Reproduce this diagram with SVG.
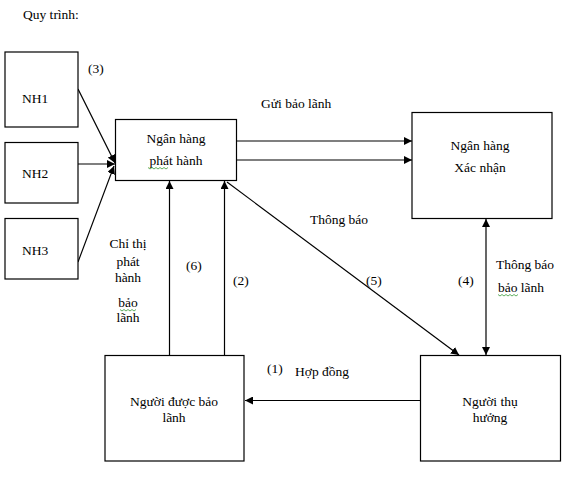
<svg xmlns="http://www.w3.org/2000/svg" width="574" height="479" viewBox="0 0 574 479" font-family="'Liberation Serif', 'DejaVu Serif', serif">
<style>
.box{fill:#fff;stroke:#000;stroke-width:1.2}
.ln{fill:none;stroke:#000;stroke-width:1.2}
text{font-family:'Liberation Serif','DejaVu Serif',serif;font-size:13.5px;fill:#000}
.c{text-anchor:middle}
.sq{fill:none;stroke:#3a9a3a;stroke-width:0.8}
</style>
<defs>
<marker id="ah" viewBox="0 0 10 10" refX="10" refY="5" markerWidth="8" markerHeight="8" markerUnits="userSpaceOnUse" orient="auto-start-reverse">
<path d="M0,0 L10,5 L0,10 Z" fill="#000"/>
</marker>
</defs>
<rect width="574" height="479" fill="#fff"/>
<text x="23" y="19">Quy trình:</text>
<g id="connectors">
<line class="ln" x1="78" y1="89" x2="115" y2="163" marker-end="url(#ah)"/>
<line class="ln" x1="78" y1="164" x2="115" y2="164" marker-end="url(#ah)"/>
<line class="ln" x1="78" y1="262" x2="114" y2="166" marker-end="url(#ah)"/>
<line class="ln" x1="237" y1="141" x2="412" y2="141" marker-end="url(#ah)"/>
<line class="ln" x1="237" y1="160" x2="412" y2="160" marker-end="url(#ah)"/>
<line class="ln" x1="169.5" y1="355" x2="169.5" y2="181" marker-end="url(#ah)"/>
<line class="ln" x1="224.5" y1="355" x2="224.5" y2="181" marker-end="url(#ah)"/>
<line class="ln" x1="227" y1="182" x2="459" y2="355" marker-end="url(#ah)"/>
<line class="ln" x1="486" y1="219" x2="486" y2="355" marker-start="url(#ah)" marker-end="url(#ah)"/>
<line class="ln" x1="420" y1="400.5" x2="245" y2="400.5" marker-end="url(#ah)"/>
</g>
<g id="nh1"><rect class="box" x="5" y="52" width="73" height="75"/><text x="22" y="103">NH1</text></g>
<g id="nh2"><rect class="box" x="5" y="142.5" width="73" height="60.5"/><text x="22" y="178">NH2</text></g>
<g id="nh3"><rect class="box" x="5" y="218.5" width="73" height="60.5"/><text x="22" y="255">NH3</text></g>
<g id="issuing-bank"><rect class="box" x="115.5" y="119.5" width="121" height="61"/>
<text class="c" x="176" y="143">Ngân hàng</text><text class="c" x="176" y="165">phát hành</text>
<path class="sq" d="M148,167.5 l2,1.5 l2,-1.5 l2,1.5 l2,-1.5 l2,1.5 l2,-1.5 l2,1.5 l2,-1.5 l2,1.5 l2,-1.5"/></g>
<g id="confirming-bank"><rect class="box" x="412" y="112.5" width="140" height="106"/>
<text class="c" x="480" y="150">Ngân hàng</text><text class="c" x="480" y="172">Xác nhận</text></g>
<g id="applicant"><rect class="box" x="105" y="355.5" width="139" height="105.5"/>
<text class="c" x="174" y="406">Người được bảo</text><text class="c" x="174" y="422">lãnh</text></g>
<g id="beneficiary"><rect class="box" x="420.5" y="355.5" width="140" height="105.5"/>
<text class="c" x="490" y="406">Người thụ</text><text class="c" x="490" y="422">hưởng</text></g>
<g id="labels">
<text x="88" y="73">(3)</text>
<text x="261" y="108">Gửi bảo lãnh</text>
<text x="310" y="224">Thông báo</text>
<text class="c" x="128" y="248">Chỉ thị</text>
<text class="c" x="128" y="266">phát</text>
<text class="c" x="128" y="282">hành</text>
<text class="c" x="128" y="307">bảo</text>
<path class="sq" d="M120,309.5 l2,1.5 l2,-1.5 l2,1.5 l2,-1.5 l2,1.5 l2,-1.5 l2,1.5 l2,-1.5"/>
<text class="c" x="128" y="322">lãnh</text>
<text x="186" y="270">(6)</text>
<text x="233" y="285">(2)</text>
<text x="366" y="285">(5)</text>
<text x="458" y="285">(4)</text>
<text x="496" y="269">Thông báo</text>
<text x="498" y="292">bảo lãnh</text>
<path class="sq" d="M498,294.5 l2,1.5 l2,-1.5 l2,1.5 l2,-1.5 l2,1.5 l2,-1.5 l2,1.5 l2,-1.5 l2,1.5 l2,-1.5"/>
<text x="267" y="373">(1)</text>
<text x="295" y="376">Hợp đồng</text>
</g>
</svg>
